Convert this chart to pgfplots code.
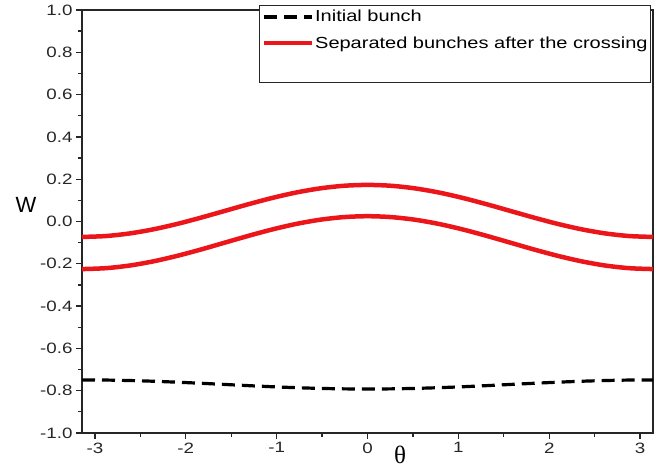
\documentclass[border=0pt]{standalone}
\usepackage{fontspec}
\setmainfont[FakeStretch=1.25]{Liberation Sans}
\newfontfamily\plainsans{Liberation Sans}
\newfontfamily\greekserif{Liberation Serif}
\usepackage{pgfplots}
\usepackage{pgfplotstable}
\pgfplotsset{compat=1.18}

\definecolor{bunchred}{RGB}{236,22,26}

% theta, upper and lower separated bunch, initial bunch
\pgfplotstableread{
theta    upper    lower    initial
-3.1416  -0.0730  -0.2250  -0.7490
-2.8798  -0.0688  -0.2207  -0.7497
-2.6180  -0.0565  -0.2083  -0.7519
-2.3562  -0.0370  -0.1884  -0.7553
-2.0944  -0.0115  -0.1625  -0.7598
-1.8326   0.0182  -0.1324  -0.7649
-1.5708   0.0500  -0.1000  -0.7705
-1.3090   0.0818  -0.0677  -0.7761
-1.0472   0.1115  -0.0375  -0.7813
-0.7854   0.1370  -0.0116  -0.7857
-0.5236   0.1565   0.0083  -0.7891
-0.2618   0.1688   0.0207  -0.7913
 0.0000   0.1730   0.0250  -0.7920
 0.2618   0.1688   0.0207  -0.7913
 0.5236   0.1565   0.0083  -0.7891
 0.7854   0.1370  -0.0116  -0.7857
 1.0472   0.1115  -0.0375  -0.7813
 1.3090   0.0818  -0.0677  -0.7761
 1.5708   0.0500  -0.1000  -0.7705
 1.8326   0.0182  -0.1324  -0.7649
 2.0944  -0.0115  -0.1625  -0.7598
 2.3562  -0.0370  -0.1884  -0.7553
 2.6180  -0.0565  -0.2083  -0.7519
 2.8798  -0.0688  -0.2207  -0.7497
 3.1416  -0.0730  -0.2250  -0.7490
}\bunchdata

\begin{document}
\begin{tikzpicture}
\useasboundingbox (-82pt,-37pt) rectangle (581pt,433pt);
\begin{axis}[
  at={(0pt,0pt)}, anchor=south west,
  scale only axis,
  width=571pt, height=423pt,
  xmin=-3.1416, xmax=3.1416,
  ymin=-1, ymax=1,
  xtick={-3,-2,-1,0,1,2,3},
  ytick={-1,-0.8,-0.6,-0.4,-0.2,0,0.2,0.4,0.6,0.8,1},
  minor x tick num=1,
  minor y tick num=1,
  xtick pos=left, ytick pos=left,
  tick align=outside,
  major tick length=6pt, minor tick length=4pt,
  axis line style={line width=1.3pt, black!85},
  every tick/.style={line width=1.3pt, black!85},
  /pgf/number format/assume math mode=true,
  tick label style={font=\fontsize{15}{17}\selectfont, text=black!85},
  yticklabel style={/pgf/number format/.cd, fixed, fixed zerofill, precision=1},
  xticklabel style={/pgf/number format/.cd, fixed, precision=0},
  xlabel={\greekserif θ},
  xlabel style={at={(axis description cs:0.5569,0)}, anchor=center, yshift=-22pt,
    font=\fontsize{25}{28}\selectfont},
  ylabel={\plainsans W},
  ylabel style={at={(axis description cs:0,0.539)}, anchor=center, rotate=-90,
    xshift=-56pt, font=\fontsize{22}{24}\selectfont},
  legend style={
    at={(rel axis cs:1,1)}, anchor=north east, xshift=-2pt, yshift=5pt,
    draw=black!85, line width=0.8pt,
    font=\fontsize{16}{18}\selectfont,
    inner xsep=2pt, inner ysep=2pt,
    row sep=7pt,
    nodes={inner xsep=1pt, inner ysep=3pt},
  },
  legend cell align=left,
  legend image code/.code={\draw[#1] (0pt,0pt) -- (48pt,0pt);},
  clip=false,
]
\addplot[black, line width=3.2pt, dash pattern=on 13pt off 7pt, smooth]
  table[x=theta, y=initial] {\bunchdata};
\addlegendentry{Initial bunch}
\addplot[bunchred, line width=4.5pt, smooth]
  table[x=theta, y=upper] {\bunchdata};
\addlegendentry{Separated bunches after the crossing}
\addplot[bunchred, line width=4.5pt, smooth, forget plot]
  table[x=theta, y=lower] {\bunchdata};
\addlegendimage{empty legend}
\addlegendentry{\rule{0pt}{13pt}}
\end{axis}
\end{tikzpicture}
\end{document}
